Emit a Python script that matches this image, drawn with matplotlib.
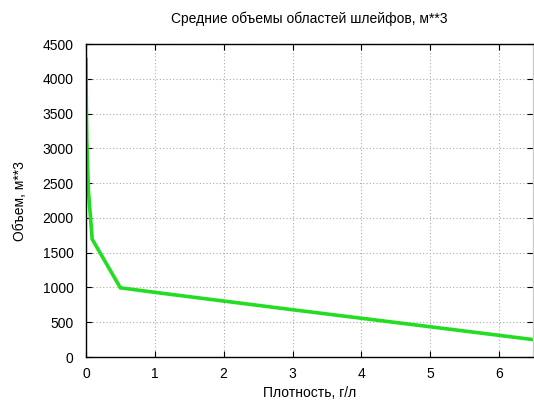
import matplotlib
matplotlib.use("Agg")
import matplotlib.pyplot as plt

plt.rcParams["font.family"] = ["Liberation Sans", "DejaVu Sans"]

density = [0.0, 0.005, 0.012, 0.035, 0.09, 0.5, 1.0, 3.0, 5.0, 6.5]
volume = [4280, 3600, 3120, 2400, 1695, 995, 930, 680, 435, 250]

fig = plt.figure(figsize=(5.34, 4.05), dpi=100)
ax = fig.add_axes([0.161, 0.1185, 0.838, 0.7725])

ax.plot(density, volume, color="#22dd22", lw=2.6, solid_joinstyle="miter")

ax.set_xlim(0, 6.5)
ax.set_ylim(0, 4500)
ax.set_xticks(range(0, 7))
ax.set_yticks(range(0, 4501, 500))
ax.grid(True, color="#aaaaaa", linestyle=(0, (1, 2)), linewidth=0.8)
ax.tick_params(direction="in", top=True, right=True, labelsize=10, length=4)
ax.tick_params(axis="y", pad=9)
ax.tick_params(axis="x", pad=7)
for s in ax.spines.values():
    s.set_linewidth(1.0)
ax.spines["right"].set_color("#cccccc")

ax.set_title("Средние объемы областей шлейфов, м**3", fontsize=10, pad=15)
ax.set_xlabel("Плотность, г/л", fontsize=10, labelpad=4)
ax.set_ylabel("Объем, м**3", fontsize=10, labelpad=11)

fig.savefig("out.png", dpi=100)
